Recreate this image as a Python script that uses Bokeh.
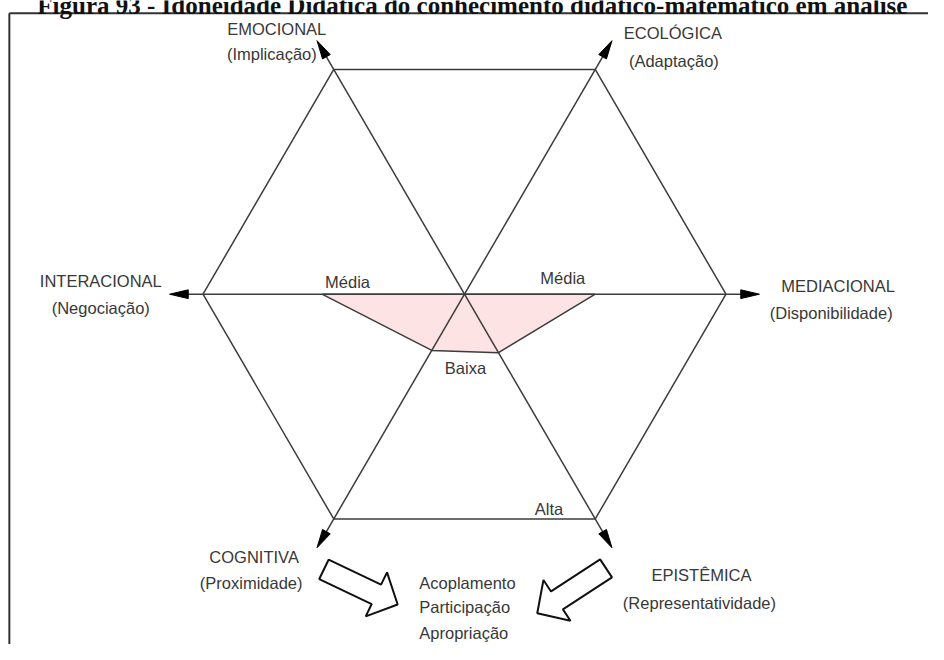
import numpy as np
from bokeh.plotting import figure
from bokeh.models import Range1d
from bokeh.core.properties import value
from bokeh.embed import file_html
from bokeh.resources import INLINE

# ---------------- data ----------------
title = "Figura 93 - Idoneidade Didática do conhecimento didático-matemático em análise"
axis_names = ["MEDIACIONAL", "ECOLÓGICA", "EMOCIONAL", "INTERACIONAL", "COGNITIVA", "EPISTÊMICA"]
axis_subtitles = ["(Disponibilidade)", "(Adaptação)", "(Implicação)", "(Negociação)",
                  "(Proximidade)", "(Representatividade)"]
axis_angles_deg = [0, 60, 120, 180, 240, 300]
# degree of suitability on each axis (fraction of the hexagon radius)
idoneidade = [0.50, 0.0, 0.0, 0.545, 0.25, 0.26]
level_labels = ["Média", "Média", "Baixa", "Alta"]
outcomes = ["Acoplamento", "Participação", "Apropriação"]

# ---------------- layout (reference-image pixels) ----------------
W, H = 928, 644                     # figure size on the page
RW, RH = 944, 660                   # coordinate space of the drawing
CX, CY, R = 472, 301, 266           # hexagon centre / radius
TIP_R = 300                         # radius of axis arrow tips
HEAD_LEN, HEAD_HALF = 19, 4.5
name_pos = [(852, 293), (684, 33), (281, 29), (102, 287), (258, 570), (713, 589)]
sub_pos = [(845, 320), (685, 62), (276, 55), (102, 315), (255, 597), (711, 617)]
level_pos = [(353, 288), (572, 284), (473, 377), (558, 521)]
outcome_x, outcome_y = 426, [597, 622, 648]
block_arrows = [((329, 583), (404, 619)), ((616, 582), (546, 628))]

FONT = value("Liberation Sans")
FS = "16.5px"
LINE = "#3c3c3c"
TXT = "#383838"

p = figure(width=W, height=H, output_backend="svg", toolbar_location=None,
           x_range=Range1d(0, RW), y_range=Range1d(RH, 0),
           min_border=0, outline_line_color=None)
p.axis.visible = False
p.grid.visible = False

ang = np.radians(axis_angles_deg)
ux, uy = np.cos(ang), -np.sin(ang)

# pink polygon
vals = np.array(idoneidade)
p.patch(CX + R * vals * ux, CY + R * vals * uy, fill_color="#fde3e3",
        line_color=LINE, line_width=1.5)

# hexagon
hx = list(CX + R * ux) + [CX + R * ux[0]]
hy = list(CY + R * uy) + [CY + R * uy[0]]
p.line(hx, hy, line_color=LINE, line_width=1.5)

# axes through centre with arrow heads
p.segment(x0=CX, y0=CY, x1=CX + (TIP_R - HEAD_LEN + 2) * ux, y1=CY + (TIP_R - HEAD_LEN + 2) * uy,
          line_color=LINE, line_width=1.5)
heads_x, heads_y = [], []
for cx_, cy_ in zip(ux, uy):
    tx, ty = CX + TIP_R * cx_, CY + TIP_R * cy_
    bx, by = CX + (TIP_R - HEAD_LEN) * cx_, CY + (TIP_R - HEAD_LEN) * cy_
    nx, ny = -cy_, cx_
    heads_x.append([tx, bx + HEAD_HALF * nx, bx - HEAD_HALF * nx])
    heads_y.append([ty, by + HEAD_HALF * ny, by - HEAD_HALF * ny])
p.patches(heads_x, heads_y, fill_color="black", line_color="black", line_width=1)

# block arrows
bxs, bys = [], []
for (t0, t1), (s0, s1) in block_arrows:
    d = np.array([s0 - t0, s1 - t1], float)
    u = d / np.hypot(*d)
    n = np.array([-u[1], u[0]])
    tail = np.array([t0, t1], float)
    tip = np.array([s0, s1], float)
    base = tip - 24 * u
    sw, hw = 11, 25
    pts = [tail + sw * n, base + sw * n, base + hw * n, tip,
           base - hw * n, base - sw * n, tail - sw * n]
    bxs.append([q[0] for q in pts])
    bys.append([q[1] for q in pts])
p.patches(bxs, bys, fill_color="white", line_color="#111111", line_width=2)

# frame of the figure box
p.segment(x0=[9, 9], y0=[13, 13], x1=[9, RW], y1=[RH, 13],
          line_color="#333333", line_width=2)

# caption, cut by the top edge as in the reference
p.text(x=[480], y=[5], text=[title], text_font=value("Liberation Serif"),
       text_font_size="25px", text_font_style="bold", text_color="#111111",
       text_align="center", text_baseline="alphabetic")

# texts
p.text(x=[q[0] for q in name_pos], y=[q[1] for q in name_pos], text=axis_names,
       text_font=FONT, text_font_size=FS, text_color=TXT,
       text_align="center", text_baseline="middle")
p.text(x=[q[0] for q in sub_pos], y=[q[1] for q in sub_pos], text=axis_subtitles,
       text_font=FONT, text_font_size=FS, text_color=TXT,
       text_align="center", text_baseline="middle")
p.text(x=[q[0] for q in level_pos], y=[q[1] for q in level_pos], text=level_labels,
       text_font=FONT, text_font_size=FS, text_color=TXT,
       text_align="center", text_baseline="middle")
p.text(x=[outcome_x] * 3, y=outcome_y, text=outcomes,
       text_font=FONT, text_font_size=FS, text_color=TXT,
       text_align="left", text_baseline="middle")

open("out.html", "w").write(file_html(p, INLINE))
